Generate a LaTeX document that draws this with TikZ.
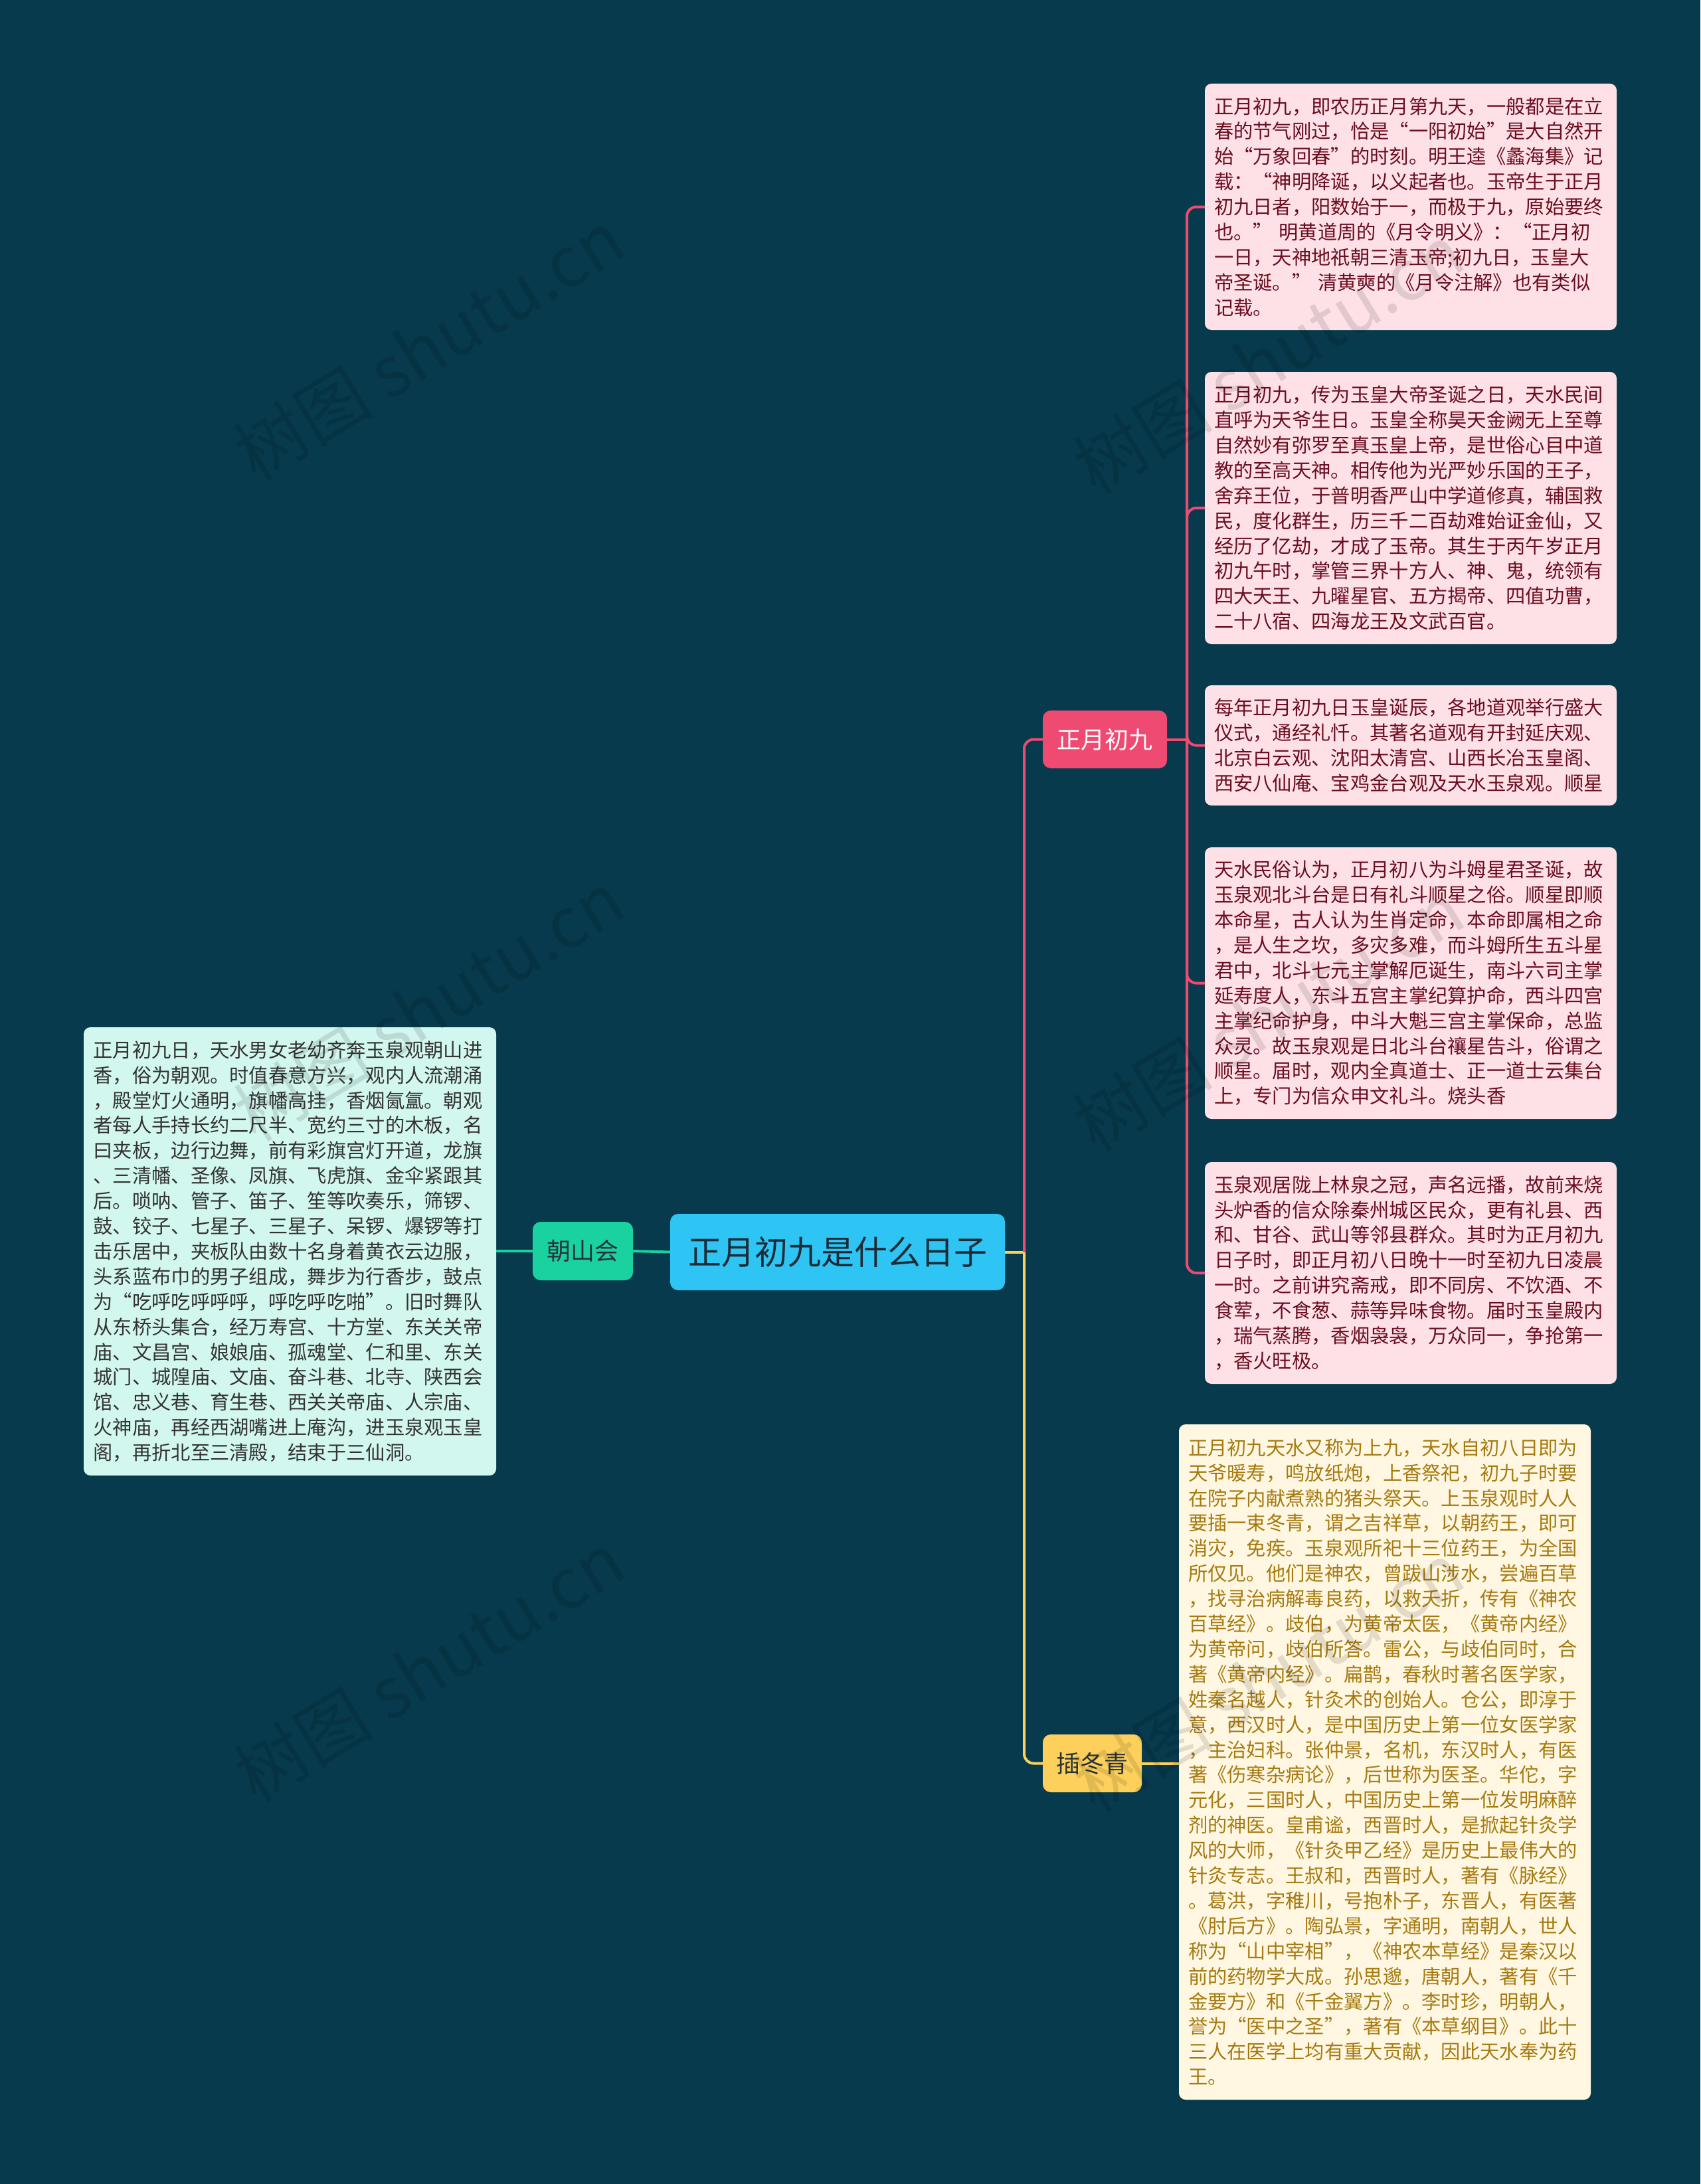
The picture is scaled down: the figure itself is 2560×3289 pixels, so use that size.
\documentclass[tikz,border=0pt]{standalone}
\usepackage{fontspec}
\setmainfont{Noto Sans CJK SC}
\definecolor{bg}{HTML}{063A4C}
\definecolor{rootfill}{HTML}{2EC5F5}
\definecolor{roottext}{HTML}{1D2B36}
\definecolor{redc}{HTML}{EF4A72}
\definecolor{yelc}{HTML}{FCD05B}
\definecolor{tealc}{HTML}{19D2A0}
\definecolor{pinkfill}{HTML}{FDE1E6}
\definecolor{pinktext}{HTML}{6B0D20}
\definecolor{yelfill}{HTML}{FFF7E1}
\definecolor{yeltext}{HTML}{A67A10}
\definecolor{mintfill}{HTML}{D2F7EE}
\definecolor{minttext}{HTML}{333333}
\definecolor{darktext}{HTML}{2B3236}
\tikzset{
  txtbox/.style={rounded corners=10pt, inner xsep=14pt, inner ysep=0pt,
    text width=592pt, align=left, minimum width=620pt,
    font={\fontsize{29.3pt}{37.9pt}\selectfont}},
  pinkbox/.style={txtbox, fill=pinkfill, text=pinktext},
  yelbox/.style={txtbox, fill=yelfill, text=yeltext},
  mintbox/.style={txtbox, fill=mintfill, text=minttext},
  topic/.style={rounded corners=12pt, inner sep=0pt, minimum height=87pt,
    font={\fontsize{36pt}{40pt}\selectfont}},
  rootnode/.style={rounded corners=12pt, inner sep=0pt, fill=rootfill, text=roottext,
    minimum width=504pt, minimum height=115pt, font={\fontsize{50pt}{56pt}\selectfont}},
  redline/.style={draw=redc, line width=4pt, rounded corners=14pt},
  yelline/.style={draw=yelc, line width=4pt, rounded corners=14pt},
  tealline/.style={draw=tealc, line width=4pt},
  wm/.style={text=black, opacity=0.11, font={\fontsize{105pt}{110pt}\selectfont}, rotate=31.5}
}
\begin{document}
\begin{tikzpicture}[x=1pt,y=-1pt]
\useasboundingbox (0,0) rectangle (2560,3289);
\fill[bg] (0,0) rectangle (2560,3289);

% nodes
\node[rootnode] (root) at (1261,1885.5) {正月初九是什么日子};
\node[topic, fill=redc, text=white, minimum width=187pt] (n1) at (1663.5,1113.5) {正月初九};
\node[topic, fill=yelc, text=darktext, minimum width=149pt] (n2) at (1644.5,2655.5) {插冬青};
\node[topic, fill=tealc, text=darktext, minimum width=151pt, minimum height=88pt] (n3) at (877.5,1884) {朝山会};

\node[pinkbox, minimum height=371pt] (b1) at (2124,311.5) {正月初九，即农历正月第九天，一般都是在立\\
春的节气刚过，恰是“一阳初始”是大自然开\\
始“万象回春”的时刻。明王逵《蠡海集》记\\
载：“神明降诞，以义起者也。玉帝生于正月\\
初九日者，阳数始于一，而极于九，原始要终\\
也。” 明黄道周的《月令明义》：“正月初\\
一日，天神地祇朝三清玉帝;初九日，玉皇大\\
帝圣诞。” 清黄奭的《月令注解》也有类似\\
记载。};

\node[pinkbox, minimum height=410pt] (b2) at (2124,765) {正月初九，传为玉皇大帝圣诞之日，天水民间\\
直呼为天爷生日。玉皇全称昊天金阙无上至尊\\
自然妙有弥罗至真玉皇上帝，是世俗心目中道\\
教的至高天神。相传他为光严妙乐国的王子，\\
舍弃王位，于普明香严山中学道修真，辅国救\\
民，度化群生，历三千二百劫难始证金仙，又\\
经历了亿劫，才成了玉帝。其生于丙午岁正月\\
初九午时，掌管三界十方人、神、鬼，统领有\\
四大天王、九曜星官、五方揭帝、四值功曹，\\
二十八宿、四海龙王及文武百官。};

\node[pinkbox, minimum height=181pt] (b3) at (2124,1122.5) {每年正月初九日玉皇诞辰，各地道观举行盛大\\
仪式，通经礼忏。其著名道观有开封延庆观、\\
北京白云观、沈阳太清宫、山西长冶玉皇阁、\\
西安八仙庵、宝鸡金台观及天水玉泉观。顺星};

\node[pinkbox, minimum height=409pt] (b4) at (2124,1480.5) {天水民俗认为，正月初八为斗姆星君圣诞，故\\
玉泉观北斗台是日有礼斗顺星之俗。顺星即顺\\
本命星，古人认为生肖定命，本命即属相之命\\
，是人生之坎，多灾多难，而斗姆所生五斗星\\
君中，北斗七元主掌解厄诞生，南斗六司主掌\\
延寿度人，东斗五宫主掌纪算护命，西斗四宫\\
主掌纪命护身，中斗大魁三宫主掌保命，总监\\
众灵。故玉泉观是日北斗台禳星告斗，俗谓之\\
顺星。届时，观内全真道士、正一道士云集台\\
上，专门为信众申文礼斗。烧头香};

\node[pinkbox, minimum height=334pt] (b5) at (2124,1917) {玉泉观居陇上林泉之冠，声名远播，故前来烧\\
头炉香的信众除秦州城区民众，更有礼县、西\\
和、甘谷、武山等邻县群众。其时为正月初九\\
日子时，即正月初八日晚十一时至初九日凌晨\\
一时。之前讲究斋戒，即不同房、不饮酒、不\\
食荤，不食葱、蒜等异味食物。届时玉皇殿内\\
，瑞气蒸腾，香烟袅袅，万众同一，争抢第一\\
，香火旺极。};

\node[yelbox, minimum height=1017pt] (y1) at (2085,2653.5) {正月初九天水又称为上九，天水自初八日即为\\
天爷暖寿，鸣放纸炮，上香祭祀，初九子时要\\
在院子内献煮熟的猪头祭天。上玉泉观时人人\\
要插一束冬青，谓之吉祥草，以朝药王，即可\\
消灾，免疾。玉泉观所祀十三位药王，为全国\\
所仅见。他们是神农，曾跋山涉水，尝遍百草\\
，找寻治病解毒良药，以救夭折，传有《神农\\
百草经》。歧伯，为黄帝太医，《黄帝内经》\\
为黄帝问，歧伯所答。雷公，与歧伯同时，合\\
著《黄帝内经》。扁鹊，春秋时著名医学家，\\
姓秦名越人，针灸术的创始人。仓公，即淳于\\
意，西汉时人，是中国历史上第一位女医学家\\
，主治妇科。张仲景，名机，东汉时人，有医\\
著《伤寒杂病论》，后世称为医圣。华佗，字\\
元化，三国时人，中国历史上第一位发明麻醉\\
剂的神医。皇甫谧，西晋时人，是掀起针灸学\\
风的大师，《针灸甲乙经》是历史上最伟大的\\
针灸专志。王叔和，西晋时人，著有《脉经》\\
。葛洪，字稚川，号抱朴子，东晋人，有医著\\
《肘后方》。陶弘景，字通明，南朝人，世人\\
称为“山中宰相”，《神农本草经》是秦汉以\\
前的药物学大成。孙思邈，唐朝人，著有《千\\
金要方》和《千金翼方》。李时珍，明朝人，\\
誉为“医中之圣”，著有《本草纲目》。此十\\
三人在医学上均有重大贡献，因此天水奉为药\\
王。};

\node[mintbox, minimum width=621pt, minimum height=675pt] (l1) at (436.5,1884.5) {正月初九日，天水男女老幼齐奔玉泉观朝山进\\
香，俗为朝观。时值春意方兴，观内人流潮涌\\
，殿堂灯火通明，旗幡高挂，香烟氤氲。朝观\\
者每人手持长约二尺半、宽约三寸的木板，名\\
曰夹板，边行边舞，前有彩旗宫灯开道，龙旗\\
、三清幡、圣像、凤旗、飞虎旗、金伞紧跟其\\
后。唢呐、管子、笛子、笙等吹奏乐，筛锣、\\
鼓、铰子、七星子、三星子、呆锣、爆锣等打\\
击乐居中，夹板队由数十名身着黄衣云边服，\\
头系蓝布巾的男子组成，舞步为行香步，鼓点\\
为“吃呼吃呼呼呼，呼吃呼吃啪”。旧时舞队\\
从东桥头集合，经万寿宫、十方堂、东关关帝\\
庙、文昌宫、娘娘庙、孤魂堂、仁和里、东关\\
城门、城隍庙、文庙、奋斗巷、北寺、陕西会\\
馆、忠义巷、育生巷、西关关帝庙、人宗庙、\\
火神庙，再经西湖嘴进上庵沟，进玉泉观玉皇\\
阁，再折北至三清殿，结束于三仙洞。};

% connectors
\coordinate (j) at (1542,1885.5);
\coordinate (k) at (1787,1113.5);
\begin{scope}[on background layer/.try]
\end{scope}
\draw[yelline] (root.east) -- (j);
\draw[redline] (j) |- (n1.west);
\draw[yelline] (j) |- (n2.west);
\draw[redline] (n1.east) -- (k);
\draw[redline] (k) |- (b1.west);
\draw[redline] (k) |- (b2.west);
\draw[redline] (k) |- (b3.west);
\draw[redline] (k) |- (b4.west);
\draw[redline] (k) |- (b5.west);
\draw[yelline] (n2.east) -- (n2.east -| y1.west);
\draw[tealline] (root.west) -- (n3.east);
\draw[tealline] (n3.west) -- (n3.west -| l1.east);

% watermarks
\node[wm] (w1) at (646,520) {树图 shutu.cn};
\node[wm] (w2) at (1910,540) {树图 shutu.cn};
\node[wm] (w3) at (646,1515) {树图 shutu.cn};
\node[wm] (w4) at (1910,1530) {树图 shutu.cn};
\node[wm] (w5) at (646,2510) {树图 shutu.cn};
\node[wm] (w6) at (1910,2525) {树图 shutu.cn};
\end{tikzpicture}
\end{document}
